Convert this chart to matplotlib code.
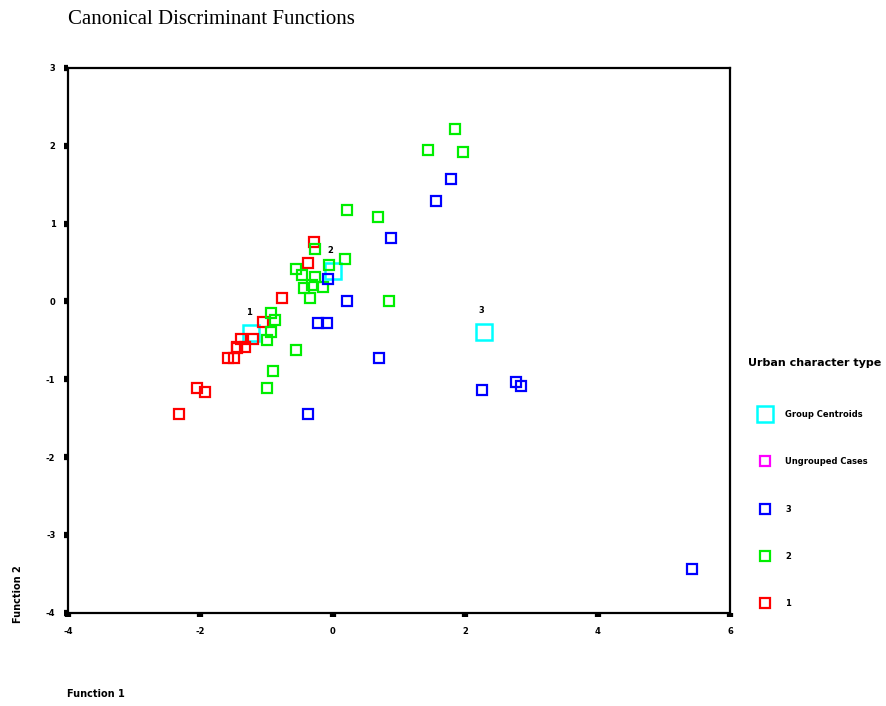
import matplotlib
matplotlib.use("Agg")
import matplotlib.pyplot as plt
from matplotlib.lines import Line2D

plt.rcParams["axes.unicode_minus"] = False

# discriminant scores (Function 1, Function 2)
g1_x = [-0.29, -0.38, -0.76, -1.05, -1.38, -1.20, -1.45, -1.44, -1.32, -1.59, -1.49, -2.05, -1.93, -2.32]
g1_y = [0.77, 0.49, 0.04, -0.26, -0.48, -0.48, -0.58, -0.60, -0.59, -0.73, -0.73, -1.11, -1.16, -1.44]

g2_x = [1.85, 1.44, 1.97, 0.21, 0.68, -0.27, -0.56, -0.47, -0.27, -0.06, 0.18, -0.32,
        -0.44, -0.15, -0.35, 0.85, -0.94, -0.88, -0.94, -1.00, -0.56, -0.91, -1.00]
g2_y = [2.22, 1.94, 1.92, 1.17, 1.09, 0.67, 0.42, 0.34, 0.32, 0.47, 0.54, 0.21,
        0.17, 0.19, 0.04, 0.00, -0.15, -0.24, -0.39, -0.50, -0.63, -0.89, -1.11]

g3_x = [1.79, 1.56, 0.88, -0.08, 0.21, -0.23, -0.09, 0.70, -0.38, 2.26, 2.76, 2.84, 5.43]
g3_y = [1.57, 1.29, 0.81, 0.29, 0.01, -0.28, -0.28, -0.73, -1.44, -1.14, -1.04, -1.08, -3.44]

cent_labels = ["1", "2", "3"]
cent_x = [-1.23, 0.00, 2.29]
cent_y = [-0.41, 0.39, -0.39]

x_ticks = [-4, -2, 0, 2, 4, 6]
y_ticks = [-4, -3, -2, -1, 0, 1, 2, 3]

legend_labels = ["Group Centroids", "Ungrouped Cases", "3", "2", "1"]

fig = plt.figure(figsize=(8.86, 7.06), dpi=100)
ax = fig.add_axes([0.0767, 0.132, 0.7473, 0.7718])

ax.plot(cent_x, cent_y, "s", ms=11.5, mfc="none", mec="#00ffff", mew=1.8, ls="none")
ax.plot(g1_x, g1_y, "s", ms=7, mfc="none", mec="#ff0000", mew=1.6, ls="none")
ax.plot(g2_x, g2_y, "s", ms=7, mfc="none", mec="#00ee00", mew=1.6, ls="none")
ax.plot(g3_x, g3_y, "s", ms=7, mfc="none", mec="#0000ff", mew=1.6, ls="none")

for lab, cx, cy in zip(cent_labels, cent_x, cent_y):
    ax.annotate(lab, (cx, cy), xytext=(-2, 15), textcoords="offset points",
                ha="center", va="center", fontsize=6, fontweight="bold")

ax.set_xlim(-4, 6)
ax.set_ylim(-4, 3)
ax.set_xticks(x_ticks)
ax.set_yticks(y_ticks)
ax.tick_params(direction="out", length=3, width=4.5, labelsize=6)
ax.tick_params(axis="x", pad=7)
ax.tick_params(axis="y", pad=6)
for t in ax.get_xticklabels() + ax.get_yticklabels():
    t.set_fontweight("bold")
for s in ax.spines.values():
    s.set_linewidth(1.6)

fig.text(68 / 886, 1 - 19 / 706, "Canonical Discriminant Functions",
         family="Liberation Serif", fontsize=15, ha="left", va="center")
fig.text(67 / 886, 1 - 694 / 706, "Function 1", fontsize=7, fontweight="bold",
         ha="left", va="center")
fig.text(18 / 886, 1 - 594 / 706, "Function 2", fontsize=7, fontweight="bold",
         rotation=90, ha="center", va="center")

handles = [
    Line2D([], [], marker="s", ls="none", ms=11.5, mfc="none", mec="#00ffff", mew=1.8),
    Line2D([], [], marker="s", ls="none", ms=7, mfc="none", mec="#ff00ff", mew=1.6),
    Line2D([], [], marker="s", ls="none", ms=7, mfc="none", mec="#0000ff", mew=1.6),
    Line2D([], [], marker="s", ls="none", ms=7, mfc="none", mec="#00ee00", mew=1.6),
    Line2D([], [], marker="s", ls="none", ms=7, mfc="none", mec="#ff0000", mew=1.6),
]
leg = fig.legend(handles, legend_labels, loc="upper left",
                 bbox_to_anchor=(745 / 886, 1 - 355 / 706), frameon=False,
                 title="Urban character type", alignment="left",
                 prop={"size": 6, "weight": "bold"}, labelspacing=4.6,
                 handlelength=3.9, handletextpad=0.5, borderaxespad=0)
leg.get_title().set_fontsize(8)
leg.get_title().set_fontweight("bold")
leg._legend_box.sep = 30

fig.savefig("out.png", dpi=100)
